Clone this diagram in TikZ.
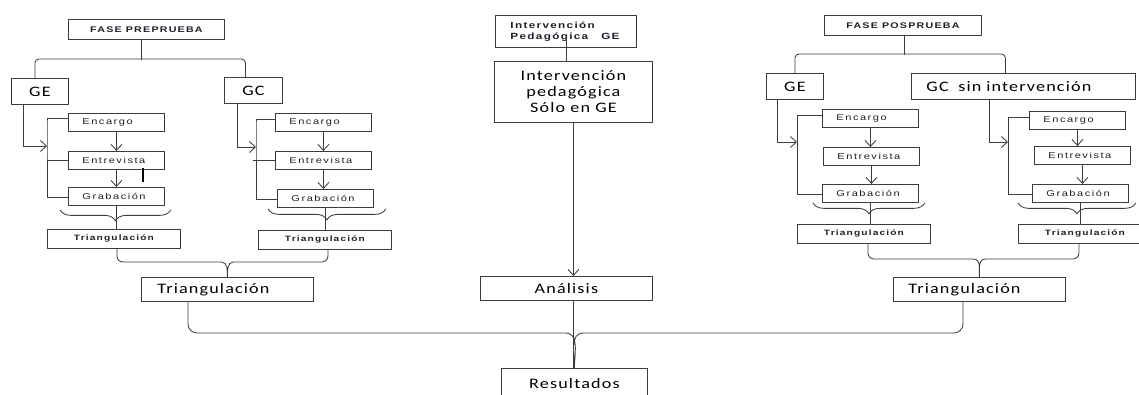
\documentclass[tikz,border=0pt]{standalone}
\usepackage{fontspec}
\usetikzlibrary{arrows.meta, calc, decorations.pathreplacing}
\newfontfamily\bigfont{Carlito}[FakeStretch=1.25, LetterSpace=8]
\newfontfamily\smallfont{Liberation Sans}[FakeStretch=1.3, LetterSpace=18]
\newfontfamily\tagfont{Liberation Sans}[FakeStretch=1.3, LetterSpace=15]
\hyphenpenalty=10000
\definecolor{lineg}{RGB}{60,60,60}
\definecolor{textg}{RGB}{30,30,40}
\tikzset{
  conn/.style    = {draw=lineg, line width=0.85pt},
  varrow/.style  = {conn, -{Straight Barb[length=6pt, width=11pt]}},
  mbox/.style    = {draw=lineg, line width=0.85pt, anchor=north west, inner sep=0pt},
  tagbox/.style  = {mbox, text=textg, font=\tagfont\bfseries\fontsize{8.2}{10}\selectfont},
  stepbox/.style = {mbox, text=textg, font=\smallfont\fontsize{8.5}{10}\selectfont,
                    minimum height=18pt, inner xsep=14pt, text width=68pt, align=left},
  bigbox/.style  = {mbox, text=black, font=\bigfont\fontsize{14.5}{16}\selectfont},
  tribox/.style  = {tagbox, font=\tagfont\bfseries\fontsize{7.8}{10}\selectfont,
                    minimum width=133pt, minimum height=19pt},
  gbrace/.style  = {conn, decorate, decoration={brace, mirror, amplitude=11pt}},
}
% left end, right end, tip, level of the bar, radius
\newcommand{\mjoin}[5]{%
  \draw[conn] let \p1=(#1), \p2=(#2), \p3=(#3) in
    (\p1) -- (\x1,#4+#5) arc[start angle=180, end angle=270, radius=#5]
    -- (\x3-#5,#4) to[out=0,in=90] (\p3) to[out=90,in=180] (\x3+#5,#4)
    -- (\x2-#5,#4) arc[start angle=270, end angle=360, radius=#5] -- (\p2);%
}

\begin{document}
\begin{tikzpicture}[x=1pt, y=1pt]
  \useasboundingbox (0,0) rectangle (1139,-394);
  \clip (0,0) rectangle (1139,-394);

  % fase preprueba
  \node[tagbox, minimum width=156pt, minimum height=20pt] (pre) at (68,-19) {FASE PREPRUEBA};
  \node[bigbox, minimum width=57pt, minimum height=26pt] (peGE) at (11,-78) {GE};
  \node[bigbox, minimum width=58pt, minimum height=26pt] (peGC) at (224,-77) {GC};
  \node[stepbox] (peEnc) at (68,-113) {Encargo};
  \node[stepbox] (peEnt) at (68,-151) {Entrevista};
  \node[stepbox] (peGra) at (68,-187) {Grabación};
  \node[tribox] (peTri) at (47,-229) {Triangulación};
  \node[stepbox] (pcEnc) at (275,-113) {Encargo};
  \node[stepbox] (pcEnt) at (275,-151) {Entrevista};
  \node[stepbox] (pcGra) at (277,-189) {Grabación};
  \node[tribox] (pcTri) at (258,-230) {Triangulación};
  \node[bigbox, minimum height=24pt, inner xsep=16pt, text width=140pt, align=left] (preTri) at (141,-277) {Triangulación};

  % intervencion
  \node[tagbox, font=\tagfont\bfseries\fontsize{9}{10.5}\selectfont, minimum height=32pt,
        inner xsep=15pt, text width=111pt, align=left] (intTag) at (495,-15) {Intervención\\Pedagógica\hspace{13pt}GE};
  \node[bigbox, minimum width=158pt, minimum height=61pt, align=center] (ped) at (494,-61) {Intervención\\pedagógica\\Sólo en GE};
  \node[bigbox, minimum width=172pt, minimum height=24pt] (an) at (480,-276) {Análisis};
  \node[bigbox, minimum width=146pt, minimum height=30pt] (res) at (501,-368) {Resultados};

  % fase posprueba
  \node[tagbox, minimum width=157pt, minimum height=20pt] (post) at (824,-15) {FASE POSPRUEBA};
  \node[bigbox, minimum width=57pt, minimum height=26pt] (qeGE) at (766,-73) {GE};
  \node[bigbox, minimum height=26pt, inner xsep=15pt, text width=194pt, align=left] (qcGC) at (911,-73) {GC\ \ sin intervención};
  \node[stepbox] (qeEnc) at (822,-109) {Encargo};
  \node[stepbox] (qeEnt) at (823,-147) {Entrevista};
  \node[stepbox] (qeGra) at (822,-184) {Grabación};
  \node[tribox] (qeTri) at (797,-224) {Triangulación};
  \node[stepbox] (qcEnc) at (1029,-111) {Encargo};
  \node[stepbox] (qcEnt) at (1034,-146) {Entrevista};
  \node[stepbox] (qcGra) at (1032,-184) {Grabación};
  \node[tribox] (qcTri) at (1018,-224) {Triangulación};
  \node[bigbox, minimum height=24pt, inner xsep=15pt, text width=142pt, align=left] (posTri) at (893,-277) {Triangulación};

  % forks below the phases
  \draw[conn] ([xshift=-5pt]pre.south) -- ++(0,-20);
  \draw[conn, rounded corners=4pt] ([xshift=-5pt]peGE.north) -- ++(0,19) -| ([xshift=-8pt]peGC.north);
  \draw[conn] ([xshift=1.5pt]post.south) -- ++(0,-19);
  \draw[conn, rounded corners=4pt] (qeGE.north) -- ++(0,19) -| ([xshift=-18pt]qcGC.north);

  % brackets and entry arrows
  \coordinate (peBr) at ([xshift=-21pt]peEnc.west);
  \coordinate (pcBr) at ([xshift=-19pt]pcEnc.west);
  \coordinate (qeBr) at ([xshift=-25pt]qeEnc.west);
  \coordinate (qcBr) at ([xshift=-21pt]qcEnc.west);
  \draw[conn] ([yshift=4pt]peEnc.west) -| (peBr) |- ([yshift=-1pt]peGra.west);
  \draw[conn] ([yshift=3pt]pcEnc.west) -| (pcBr) |- ([yshift=-1pt]pcGra.west);
  \draw[conn] ([yshift=3pt]qeEnc.west) -| (qeBr) |- ([yshift=-1pt]qeGra.west);
  \draw[conn] ([yshift=3pt]qcEnc.west) -| (qcBr) |- ([yshift=-1pt]qcGra.west);
  \draw[conn] (peEnt.west) -- ++(-21pt,0);
  \draw[conn] (pcEnt.west) -- ++(-22pt,0);
  \draw[varrow] ([xshift=12pt]peGE.south west) |- (peBr |- 0,-146);
  \draw[varrow] ([xshift=13pt]peGC.south west) |- (pcBr |- 0,-147);
  \draw[varrow] ([xshift=11pt]qeGE.south west) |- (qeBr |- 0,-142);
  \draw[varrow] ([xshift=78pt]qcGC.south west) |- (qcBr |- 0,-142);

  % steps
  \foreach \g in {pe, pc, qe, qc} {
    \draw[varrow] (\g Enc.south) -- (\g Enc.south |- \g Ent.north);
    \draw[varrow] (\g Ent.south) -- (\g Ent.south |- \g Gra.north);
    \draw[conn] (\g Gra.south) -- (\g Gra.south |- \g Tri.north);
  }
  \draw[line width=2.4pt, black] ([xshift=-22pt,yshift=2pt]peEnt.south east) -- ++(0,-14);

  % braces under the recordings
  \draw[gbrace] ([xshift=-8pt,yshift=-4pt]peGra.south west) -- ([xshift=6pt,yshift=-4pt]peGra.south east);
  \draw[gbrace] ([xshift=-9pt,yshift=-1pt]pcGra.south west) -- ([xshift=12pt,yshift=-1pt]pcGra.south east);
  \draw[gbrace] ([xshift=-9pt]qeGra.south west) -- ([xshift=6pt]qeGra.south east);
  \draw[gbrace] ([xshift=-14pt]qcGra.south west) -- ([xshift=7pt]qcGra.south east);

  % joins
  \mjoin{[xshift=3pt]peTri.south}{[xshift=3pt]pcTri.south}{preTri.north}{-262}{6}
  \mjoin{[xshift=4pt]qeTri.south}{[xshift=-6pt]qcTri.south}{posTri.north}{-259}{6}
  \mjoin{[xshift=47pt]preTri.south west}{[xshift=70pt]posTri.south west}{res.north}{-333}{9}

  \draw[conn] ([yshift=12pt]intTag.south) -- (intTag.south |- ped.north);
  \draw[varrow] (ped.south) -- (ped.south |- an.north);
  \draw[conn] (ped.south |- an.south) -- (ped.south |- res.north);
\end{tikzpicture}
\end{document}
